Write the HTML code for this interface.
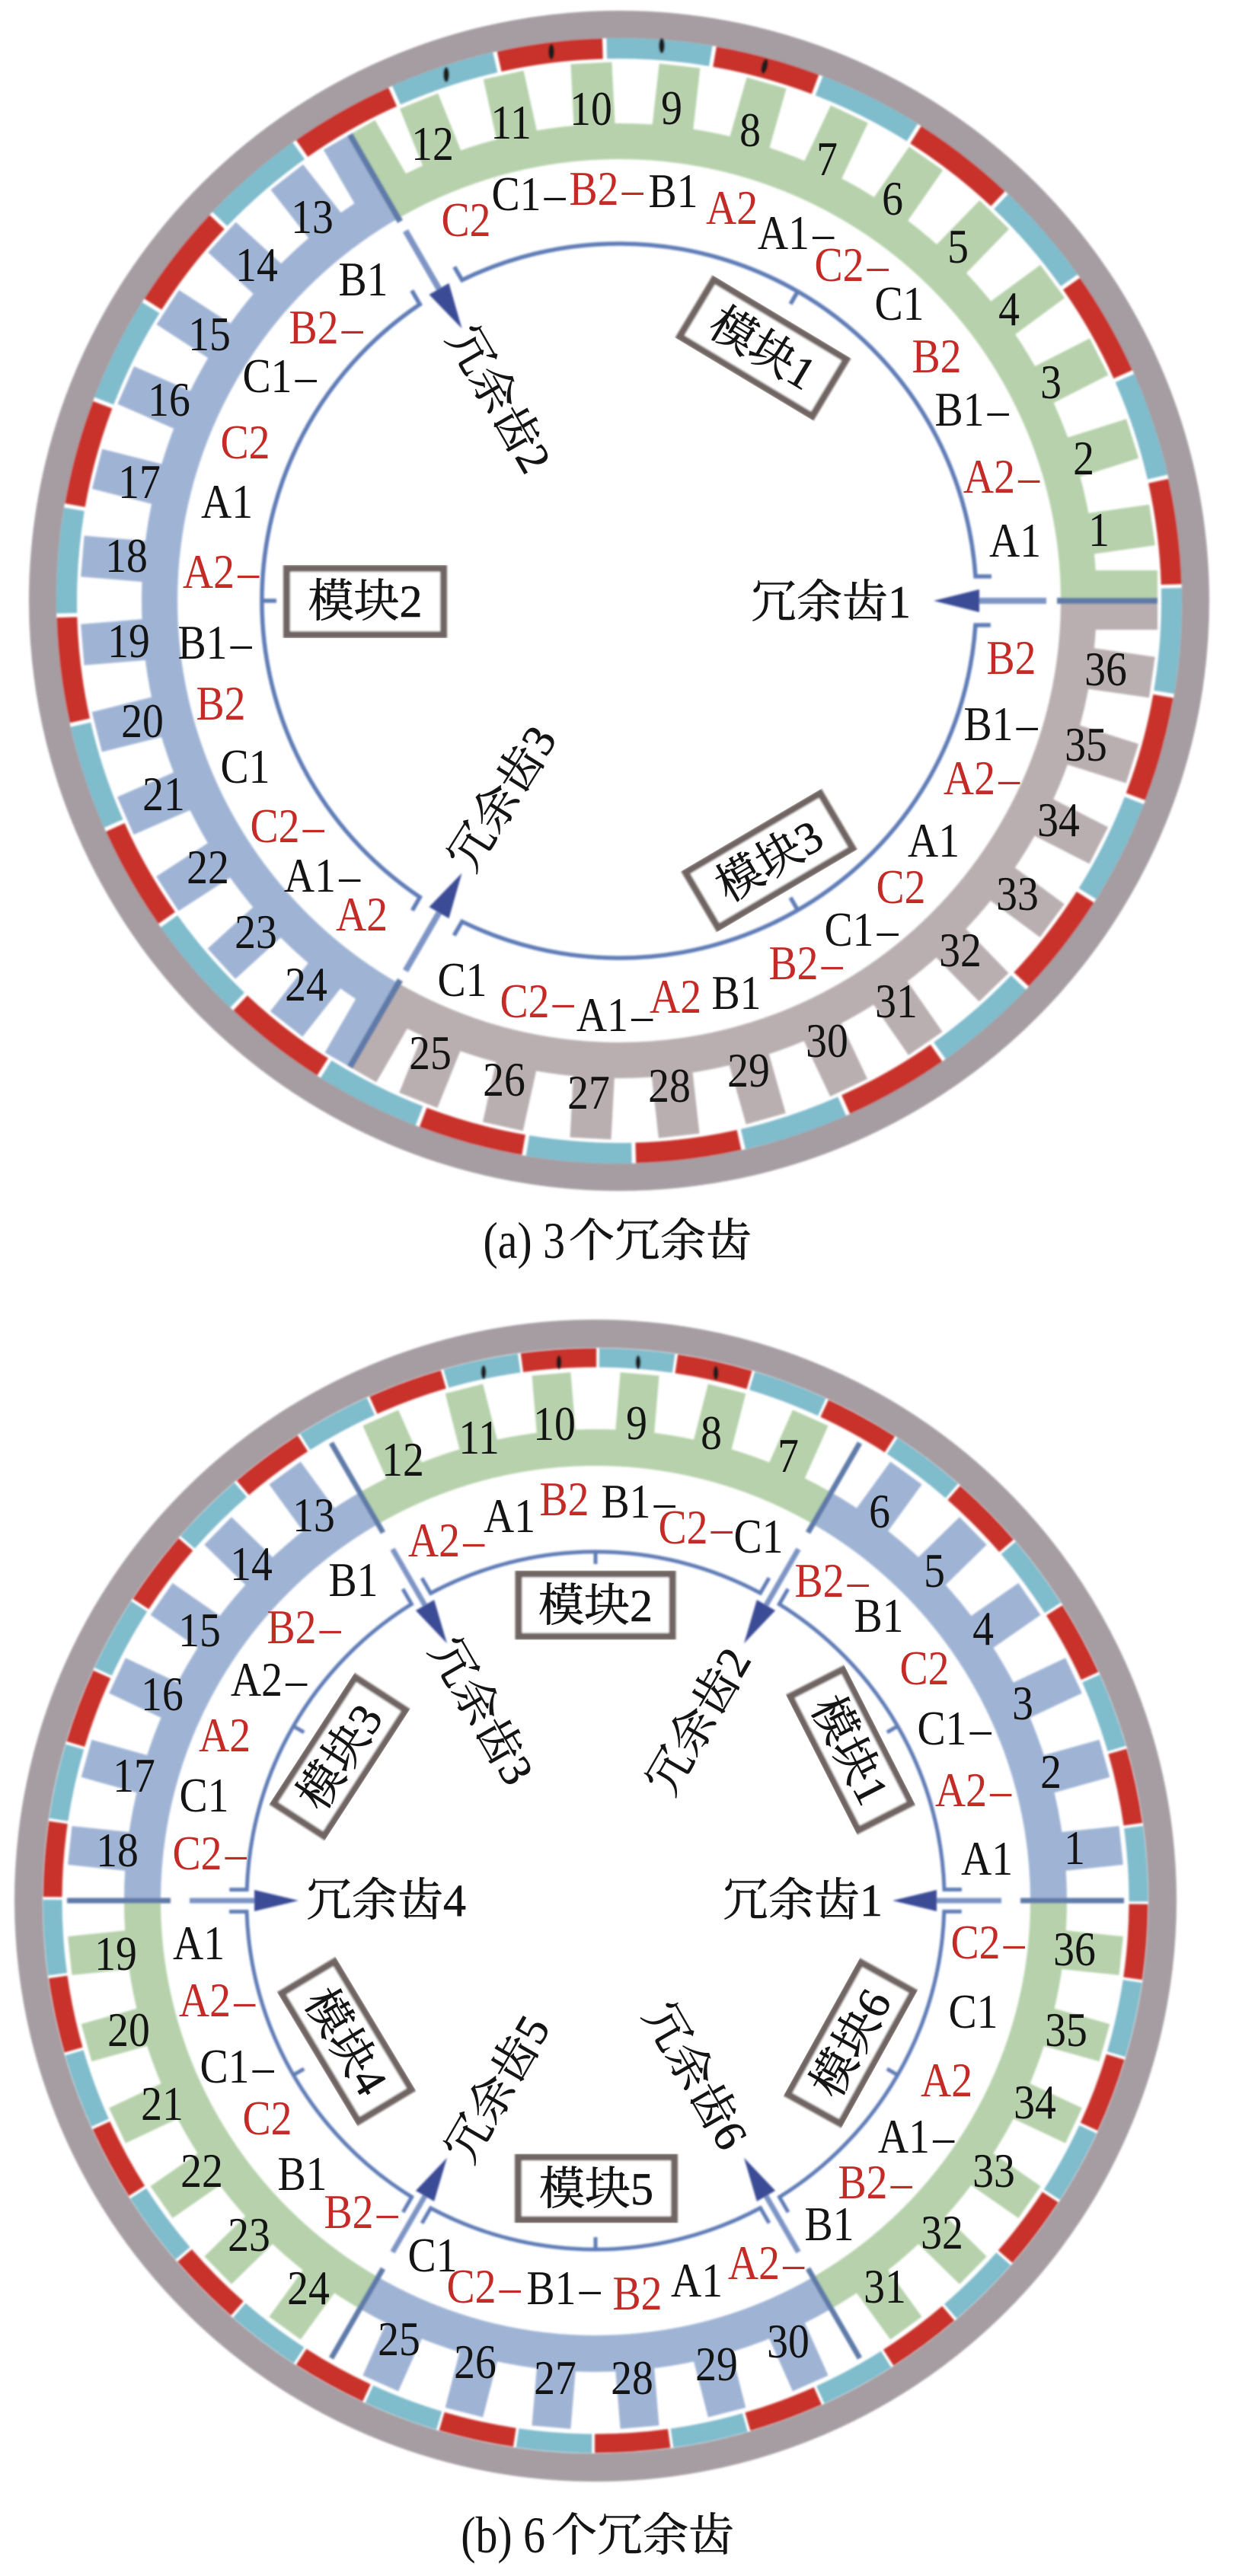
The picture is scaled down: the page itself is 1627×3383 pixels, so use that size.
<!DOCTYPE html>
<html><head><meta charset="utf-8"><title>冗余齿</title>
<style>
html,body{margin:0;padding:0;background:#fff}
svg{display:block}
text{font-family:"Liberation Serif","Noto Serif CJK SC",serif;text-anchor:middle;fill:#141414;font-size:64px}
.r{fill:#c42b27}
.c{font-size:60px;stroke:#141414;stroke-width:.6}
.l{font-size:68px;text-anchor:end}
.s{text-anchor:start}
.box{fill:#fff;stroke:#6f6562;stroke-width:9;filter:url(#bl)}
.mag{fill:none}
</style></head><body>
<svg xmlns="http://www.w3.org/2000/svg" width="1627" height="3383" viewBox="0 0 1627 3383">
<defs>
<filter id="bl" x="-5%" y="-5%" width="110%" height="110%"><feGaussianBlur stdDeviation="1.2"/></filter>
<g id="ta">
<rect x="620" y="-40" width="87" height="40"/>
<rect x="620" y="-27" width="87" height="54" transform="rotate(-8.1)"/>
<rect x="620" y="-27" width="87" height="54" transform="rotate(-17.53)"/>
<rect x="620" y="-27" width="87" height="54" transform="rotate(-26.96)"/>
<rect x="620" y="-27" width="87" height="54" transform="rotate(-36.39)"/>
<rect x="620" y="-27" width="87" height="54" transform="rotate(-45.82)"/>
<rect x="620" y="-27" width="87" height="54" transform="rotate(-55.25)"/>
<rect x="620" y="-27" width="87" height="54" transform="rotate(-64.68)"/>
<rect x="620" y="-27" width="87" height="54" transform="rotate(-74.11)"/>
<rect x="620" y="-27" width="87" height="54" transform="rotate(-83.54)"/>
<rect x="620" y="-27" width="87" height="54" transform="rotate(-92.97)"/>
<rect x="620" y="-27" width="87" height="54" transform="rotate(-102.4)"/>
<rect x="620" y="-27" width="87" height="54" transform="rotate(-111.83)"/>
<rect x="620" y="0" width="87" height="38" transform="rotate(-120)"/>
<path d="M603.5 0A603.5 603.5 0 0 0 -301.75 -522.6" fill="none" stroke-width="47" stroke="currentColor"/>
</g>
<g id="la">
<line x1="473" y1="0" x2="561" y2="0" stroke="#7d94c4" stroke-width="8"/>
<line x1="575" y1="0" x2="707" y2="0" stroke="#5f7aa8" stroke-width="8"/>
<polygon points="413,0 473,-15 473,15" fill="#3b4c96"/>
</g>
<g id="ma" fill="none" stroke="#5f7cb6" stroke-width="5.5">
<path d="M489 -32L468 -32A469 469 0 0 0 -206.3 -421.2L-216.3 -438.5"/>
<line x1="469" y1="0" x2="450" y2="0" transform="rotate(-60)"/>
</g>
<g id="tb">
<rect x="615" y="-25.5" width="79" height="51" transform="rotate(-6)"/>
<rect x="615" y="-25.5" width="79" height="51" transform="rotate(-15.6)"/>
<rect x="615" y="-25.5" width="79" height="51" transform="rotate(-25.2)"/>
<rect x="615" y="-25.5" width="79" height="51" transform="rotate(-34.8)"/>
<rect x="615" y="-25.5" width="79" height="51" transform="rotate(-44.4)"/>
<rect x="615" y="-25.5" width="79" height="51" transform="rotate(-54)"/>
<path d="M595 0A595 595 0 0 0 297.5 -515.3" fill="none" stroke-width="48" stroke="currentColor"/>
</g>
<g id="lb">
<line x1="448" y1="0" x2="533" y2="0" stroke="#7d94c4" stroke-width="7"/>
<line x1="558" y1="0" x2="694" y2="0" stroke="#5f7aa8" stroke-width="7"/>
<polygon points="390,0 448,-14 448,14" fill="#3b4c96"/>
</g>
<g id="mb" fill="none" stroke="#5f7cb6" stroke-width="5">
<path d="M481 -14.5L458 -14.5A458 458 0 0 0 241.3 -389.3L252.8 -409.2"/>
<line x1="458" y1="0" x2="442" y2="0" transform="rotate(-30)"/>
</g>
</defs>
<rect width="1627" height="3383" fill="#fff"/>

<!-- (a) -->
<g filter="url(#bl)">
<g transform="translate(813 789) scale(1 -1)">
<circle r="757" fill="none" stroke="#a59da2" stroke-width="36"/>
<circle class="mag" r="725.5" stroke="#c8302b" stroke-width="27" stroke-dasharray="137 147.9" transform="rotate(1.7)"/>
<circle class="mag" r="725.5" stroke="#7fbccc" stroke-width="27" stroke-dasharray="137 147.9" transform="rotate(12.95)"/>
</g>
<g transform="translate(813 789)">
<use href="#ta" fill="#b6d1ab" color="#b6d1ab"/>
<use href="#ta" fill="#9fb3d4" color="#9fb3d4" transform="rotate(-120)"/>
<use href="#ta" fill="#b9afb1" color="#b9afb1" transform="rotate(-240)"/>
<use href="#la"/><use href="#la" transform="rotate(-120)"/><use href="#la" transform="rotate(-240)"/>
<use href="#ma"/><use href="#ma" transform="rotate(-120)"/><use href="#ma" transform="rotate(-240)"/>
</g>
<ellipse cx="586" cy="98" rx="4" ry="10" fill="#1a1a1a"/>
<ellipse cx="724" cy="68" rx="4" ry="10" fill="#1a1a1a"/>
<ellipse cx="869" cy="60" rx="4" ry="10" fill="#1a1a1a"/>
<ellipse cx="1004" cy="87" rx="4" ry="10" fill="#1a1a1a" transform="rotate(14 1004 87)"/>
</g>
<g transform="translate(1002 457) rotate(31)"><rect class="box" x="-101.5" y="-43.5" width="203" height="87"/><text class="c" y="21">模块1</text></g>
<g transform="translate(479.5 790)"><rect class="box" x="-103" y="-43.5" width="206" height="87"/><text class="c" y="20">模块2</text></g>
<g transform="translate(1010 1130) rotate(-30.5)"><rect class="box" x="-102.5" y="-42" width="205" height="84"/><text class="c" y="21">模块3</text></g>
<text class="c" x="1091" y="811">冗余齿1</text>
<text class="c" transform="translate(656 524) rotate(60)" y="21">冗余齿2</text>
<text class="c" transform="translate(659 1048) rotate(-58)" y="21">冗余齿3</text>

<text transform="matrix(.87 0 0 1 1443 717)">1</text>
<text transform="matrix(.87 0 0 1 1423 623)">2</text>
<text transform="matrix(.87 0 0 1 1380 523)">3</text>
<text transform="matrix(.87 0 0 1 1325 427)">4</text>
<text transform="matrix(.87 0 0 1 1258 345)">5</text>
<text transform="matrix(.87 0 0 1 1172 282)">6</text>
<text transform="matrix(.87 0 0 1 1086 230)">7</text>
<text transform="matrix(.87 0 0 1 985 192)">8</text>
<text transform="matrix(.87 0 0 1 882 163)">9</text>
<text transform="matrix(.87 0 0 1 776 164)">10</text>
<text transform="matrix(.87 0 0 1 671 182)">11</text>
<text transform="matrix(.87 0 0 1 568 210)">12</text>
<text transform="matrix(.87 0 0 1 410 306)">13</text>
<text transform="matrix(.87 0 0 1 337 369)">14</text>
<text transform="matrix(.87 0 0 1 275 460)">15</text>
<text transform="matrix(.87 0 0 1 222 546)">16</text>
<text transform="matrix(.87 0 0 1 183 654)">17</text>
<text transform="matrix(.87 0 0 1 166 751)">18</text>
<text transform="matrix(.87 0 0 1 169 863)">19</text>
<text transform="matrix(.87 0 0 1 187 968)">20</text>
<text transform="matrix(.87 0 0 1 215 1064)">21</text>
<text transform="matrix(.87 0 0 1 273 1160)">22</text>
<text transform="matrix(.87 0 0 1 336 1245)">23</text>
<text transform="matrix(.87 0 0 1 402 1314)">24</text>
<text transform="matrix(.87 0 0 1 565 1404)">25</text>
<text transform="matrix(.87 0 0 1 662 1439)">26</text>
<text transform="matrix(.87 0 0 1 773 1456)">27</text>
<text transform="matrix(.87 0 0 1 879 1447)">28</text>
<text transform="matrix(.87 0 0 1 983 1427)">29</text>
<text transform="matrix(.87 0 0 1 1086 1388)">30</text>
<text transform="matrix(.87 0 0 1 1177 1336)">31</text>
<text transform="matrix(.87 0 0 1 1261 1269)">32</text>
<text transform="matrix(.87 0 0 1 1336 1195)">33</text>
<text transform="matrix(.87 0 0 1 1390 1098)">34</text>
<text transform="matrix(.87 0 0 1 1426 999)">35</text>
<text transform="matrix(.87 0 0 1 1452 900)">36</text>

<text class="r" transform="matrix(.87 0 0 1 612 310)">C2</text>
<text transform="matrix(.87 0 0 1 694 276)">C1<tspan dx="5">–</tspan></text>
<text class="r" transform="matrix(.87 0 0 1 796 269)">B2<tspan dx="5">–</tspan></text>
<text transform="matrix(.87 0 0 1 884 272)">B1</text>
<text class="r" transform="matrix(.87 0 0 1 961 294)">A2</text>
<text transform="matrix(.87 0 0 1 1045 327)">A1<tspan dx="5">–</tspan></text>
<text class="r" transform="matrix(.87 0 0 1 1118 369)">C2<tspan dx="5">–</tspan></text>
<text transform="matrix(.87 0 0 1 1181 420)">C1</text>
<text class="r" transform="matrix(.87 0 0 1 1230 489)">B2</text>
<text transform="matrix(.87 0 0 1 1276 559)">B1<tspan dx="5">–</tspan></text>
<text class="r" transform="matrix(.87 0 0 1 1315 647)">A2<tspan dx="5">–</tspan></text>
<text transform="matrix(.87 0 0 1 1333 731)">A1</text>
<text transform="matrix(.87 0 0 1 477 388)">B1</text>
<text class="r" transform="matrix(.87 0 0 1 428 451)">B2<tspan dx="5">–</tspan></text>
<text transform="matrix(.87 0 0 1 367 515)">C1<tspan dx="5">–</tspan></text>
<text class="r" transform="matrix(.87 0 0 1 322 602)">C2</text>
<text transform="matrix(.87 0 0 1 298 680)">A1</text>
<text class="r" transform="matrix(.87 0 0 1 290 772)">A2<tspan dx="5">–</tspan></text>
<text transform="matrix(.87 0 0 1 282 865)">B1<tspan dx="5">–</tspan></text>
<text class="r" transform="matrix(.87 0 0 1 290 945)">B2</text>
<text transform="matrix(.87 0 0 1 322 1028)">C1</text>
<text class="r" transform="matrix(.87 0 0 1 377 1106)">C2<tspan dx="5">–</tspan></text>
<text transform="matrix(.87 0 0 1 423 1171)">A1<tspan dx="5">–</tspan></text>
<text class="r" transform="matrix(.87 0 0 1 475 1222)">A2</text>
<text transform="matrix(.87 0 0 1 607 1308)">C1</text>
<text class="r" transform="matrix(.87 0 0 1 705 1336)">C2<tspan dx="5">–</tspan></text>
<text transform="matrix(.87 0 0 1 807 1354)">A1<tspan dx="5">–</tspan></text>
<text class="r" transform="matrix(.87 0 0 1 887 1330)">A2</text>
<text transform="matrix(.87 0 0 1 967 1325)">B1</text>
<text class="r" transform="matrix(.87 0 0 1 1058 1286)">B2<tspan dx="5">–</tspan></text>
<text transform="matrix(.87 0 0 1 1131 1242)">C1<tspan dx="5">–</tspan></text>
<text class="r" transform="matrix(.87 0 0 1 1183 1186)">C2</text>
<text transform="matrix(.87 0 0 1 1226 1125)">A1</text>
<text class="r" transform="matrix(.87 0 0 1 1289 1043)">A2<tspan dx="5">–</tspan></text>
<text transform="matrix(.87 0 0 1 1314 972)">B1<tspan dx="5">–</tspan></text>
<text class="r" transform="matrix(.87 0 0 1 1328 885)">B2</text>
<text class="l" transform="matrix(.85 0 0 1 742 1652)">(a) 3</text>
<text class="c s" x="747" y="1650">个冗余齿</text>

<!-- (b) -->
<g filter="url(#bl)">
<g transform="translate(782 2496) scale(1 -1)">
<circle r="744.5" fill="none" stroke="#a59da2" stroke-width="37"/>
<circle class="mag" r="713" stroke="#7fbccc" stroke-width="25" stroke-dasharray="98 105.63" transform="rotate(-0.1)"/>
<circle class="mag" r="713" stroke="#c8302b" stroke-width="25" stroke-dasharray="98 105.63" transform="rotate(8.08)"/>
</g>
<g transform="translate(782 2496)">
<use href="#tb" fill="#9fb3d4" color="#9fb3d4"/>
<use href="#tb" fill="#b6d1ab" color="#b6d1ab" transform="rotate(-60)"/>
<use href="#tb" fill="#9fb3d4" color="#9fb3d4" transform="rotate(-120)"/>
<use href="#tb" fill="#b6d1ab" color="#b6d1ab" transform="rotate(-180)"/>
<use href="#tb" fill="#9fb3d4" color="#9fb3d4" transform="rotate(-240)"/>
<use href="#tb" fill="#b6d1ab" color="#b6d1ab" transform="rotate(-300)"/>
<use href="#lb"/><use href="#lb" transform="rotate(-60)"/><use href="#lb" transform="rotate(-120)"/><use href="#lb" transform="rotate(-180)"/><use href="#lb" transform="rotate(-240)"/><use href="#lb" transform="rotate(-300)"/>
<use href="#mb"/><use href="#mb" transform="rotate(-60)"/><use href="#mb" transform="rotate(-120)"/><use href="#mb" transform="rotate(-180)"/><use href="#mb" transform="rotate(-240)"/><use href="#mb" transform="rotate(-300)"/>
</g>
<ellipse cx="635" cy="1802" rx="3.5" ry="9" fill="#1a1a1a"/>
<ellipse cx="734" cy="1789" rx="3.5" ry="9" fill="#1a1a1a"/>
<ellipse cx="838" cy="1789" rx="3.5" ry="9" fill="#1a1a1a"/>
<ellipse cx="940" cy="1803" rx="3.5" ry="9" fill="#1a1a1a"/>
</g>
<g transform="translate(1117 2298) rotate(63)"><rect class="box" x="-98.5" y="-39" width="197" height="78"/><text class="c" y="21">模块1</text></g>
<g transform="translate(782 2108)"><rect class="box" x="-101" y="-41" width="202" height="82"/><text class="c" y="21">模块2</text></g>
<g transform="translate(446 2307) rotate(-57)"><rect class="box" x="-98.5" y="-39.5" width="197" height="79"/><text class="c" y="21">模块3</text></g>
<g transform="translate(455 2681) rotate(59)"><rect class="box" x="-98" y="-40.5" width="196" height="81"/><text class="c" y="21">模块4</text></g>
<g transform="translate(783 2874)"><rect class="box" x="-102.5" y="-41" width="205" height="82"/><text class="c" y="21">模块5</text></g>
<g transform="translate(1117 2683) rotate(-61)"><rect class="box" x="-99" y="-39.5" width="198" height="79"/><text class="c" y="21">模块6</text></g>
<text class="c" x="1054" y="2516">冗余齿1</text>
<text class="c" transform="translate(917 2260) rotate(-60)" y="21">冗余齿2</text>
<text class="c" transform="translate(633 2247) rotate(60)" y="21">冗余齿3</text>
<text class="c" x="507" y="2516">冗余齿4</text>
<text class="c" transform="translate(653 2743) rotate(-60)" y="21">冗余齿5</text>
<text class="c" transform="translate(914 2726) rotate(60)" y="21">冗余齿6</text>

<text transform="matrix(.87 0 0 1 1411 2448)">1</text>
<text transform="matrix(.87 0 0 1 1380 2348)">2</text>
<text transform="matrix(.87 0 0 1 1343 2258)">3</text>
<text transform="matrix(.87 0 0 1 1291 2160)">4</text>
<text transform="matrix(.87 0 0 1 1227 2084)">5</text>
<text transform="matrix(.87 0 0 1 1155 2006)">6</text>
<text transform="matrix(.87 0 0 1 1035 1933)">7</text>
<text transform="matrix(.87 0 0 1 934 1903)">8</text>
<text transform="matrix(.87 0 0 1 836 1890)">9</text>
<text transform="matrix(.87 0 0 1 728 1891)">10</text>
<text transform="matrix(.87 0 0 1 629 1909)">11</text>
<text transform="matrix(.87 0 0 1 529 1938)">12</text>
<text transform="matrix(.87 0 0 1 412 2011)">13</text>
<text transform="matrix(.87 0 0 1 330 2075)">14</text>
<text transform="matrix(.87 0 0 1 262 2162)">15</text>
<text transform="matrix(.87 0 0 1 213 2246)">16</text>
<text transform="matrix(.87 0 0 1 176 2353)">17</text>
<text transform="matrix(.87 0 0 1 154 2451)">18</text>
<text transform="matrix(.87 0 0 1 152 2587)">19</text>
<text transform="matrix(.87 0 0 1 169 2687)">20</text>
<text transform="matrix(.87 0 0 1 213 2784)">21</text>
<text transform="matrix(.87 0 0 1 265 2872)">22</text>
<text transform="matrix(.87 0 0 1 327 2956)">23</text>
<text transform="matrix(.87 0 0 1 405 3026)">24</text>
<text transform="matrix(.87 0 0 1 524 3093)">25</text>
<text transform="matrix(.87 0 0 1 624 3123)">26</text>
<text transform="matrix(.87 0 0 1 729 3144)">27</text>
<text transform="matrix(.87 0 0 1 830 3144)">28</text>
<text transform="matrix(.87 0 0 1 941 3126)">29</text>
<text transform="matrix(.87 0 0 1 1035 3096)">30</text>
<text transform="matrix(.87 0 0 1 1162 3024)">31</text>
<text transform="matrix(.87 0 0 1 1237 2953)">32</text>
<text transform="matrix(.87 0 0 1 1305 2872)">33</text>
<text transform="matrix(.87 0 0 1 1359 2782)">34</text>
<text transform="matrix(.87 0 0 1 1400 2687)">35</text>
<text transform="matrix(.87 0 0 1 1411 2581)">36</text>

<text class="r" transform="matrix(.87 0 0 1 586 2044)">A2<tspan dx="5">–</tspan></text>
<text transform="matrix(.87 0 0 1 669 2012)">A1</text>
<text class="r" transform="matrix(.87 0 0 1 741 1990)">B2</text>
<text transform="matrix(.87 0 0 1 838 1993)">B1<tspan dx="5">–</tspan></text>
<text class="r" transform="matrix(.87 0 0 1 913 2027)">C2<tspan dx="5">–</tspan></text>
<text transform="matrix(.87 0 0 1 996 2039)">C1</text>
<text class="r" transform="matrix(.87 0 0 1 1092 2097)">B2<tspan dx="5">–</tspan></text>
<text transform="matrix(.87 0 0 1 1154 2143)">B1</text>
<text class="r" transform="matrix(.87 0 0 1 1214 2212)">C2</text>
<text transform="matrix(.87 0 0 1 1253 2291)">C1<tspan dx="5">–</tspan></text>
<text class="r" transform="matrix(.87 0 0 1 1278 2372)">A2<tspan dx="5">–</tspan></text>
<text transform="matrix(.87 0 0 1 1296 2462)">A1</text>
<text transform="matrix(.87 0 0 1 464 2096)">B1</text>
<text class="r" transform="matrix(.87 0 0 1 399 2158)">B2<tspan dx="5">–</tspan></text>
<text transform="matrix(.87 0 0 1 353 2227)">A2<tspan dx="5">–</tspan></text>
<text class="r" transform="matrix(.87 0 0 1 295 2300)">A2</text>
<text transform="matrix(.87 0 0 1 268 2379)">C1</text>
<text class="r" transform="matrix(.87 0 0 1 275 2455)">C2<tspan dx="5">–</tspan></text>
<text transform="matrix(.87 0 0 1 261 2573)">A1</text>
<text class="r" transform="matrix(.87 0 0 1 285 2648)">A2<tspan dx="5">–</tspan></text>
<text transform="matrix(.87 0 0 1 311 2735)">C1<tspan dx="5">–</tspan></text>
<text class="r" transform="matrix(.87 0 0 1 351 2803)">C2</text>
<text transform="matrix(.87 0 0 1 397 2876)">B1</text>
<text class="r" transform="matrix(.87 0 0 1 474 2926)">B2<tspan dx="5">–</tspan></text>
<text transform="matrix(.87 0 0 1 568 2983)">C1</text>
<text class="r" transform="matrix(.87 0 0 1 635 3024)">C2<tspan dx="5">–</tspan></text>
<text transform="matrix(.87 0 0 1 740 3026)">B1<tspan dx="5">–</tspan></text>
<text class="r" transform="matrix(.87 0 0 1 837 3033)">B2</text>
<text transform="matrix(.87 0 0 1 915 3016)">A1</text>
<text class="r" transform="matrix(.87 0 0 1 1006 2993)">A2<tspan dx="5">–</tspan></text>
<text transform="matrix(.87 0 0 1 1089 2942)">B1</text>
<text class="r" transform="matrix(.87 0 0 1 1149 2887)">B2<tspan dx="5">–</tspan></text>
<text transform="matrix(.87 0 0 1 1203 2827)">A1<tspan dx="5">–</tspan></text>
<text class="r" transform="matrix(.87 0 0 1 1243 2753)">A2</text>
<text transform="matrix(.87 0 0 1 1278 2663)">C1</text>
<text class="r" transform="matrix(.87 0 0 1 1297 2572)">C2<tspan dx="5">–</tspan></text>
<text class="l" transform="matrix(.85 0 0 1 716 3352)">(b) 6</text>
<text class="c s" x="724" y="3350">个冗余齿</text>
</svg>
</body></html>
